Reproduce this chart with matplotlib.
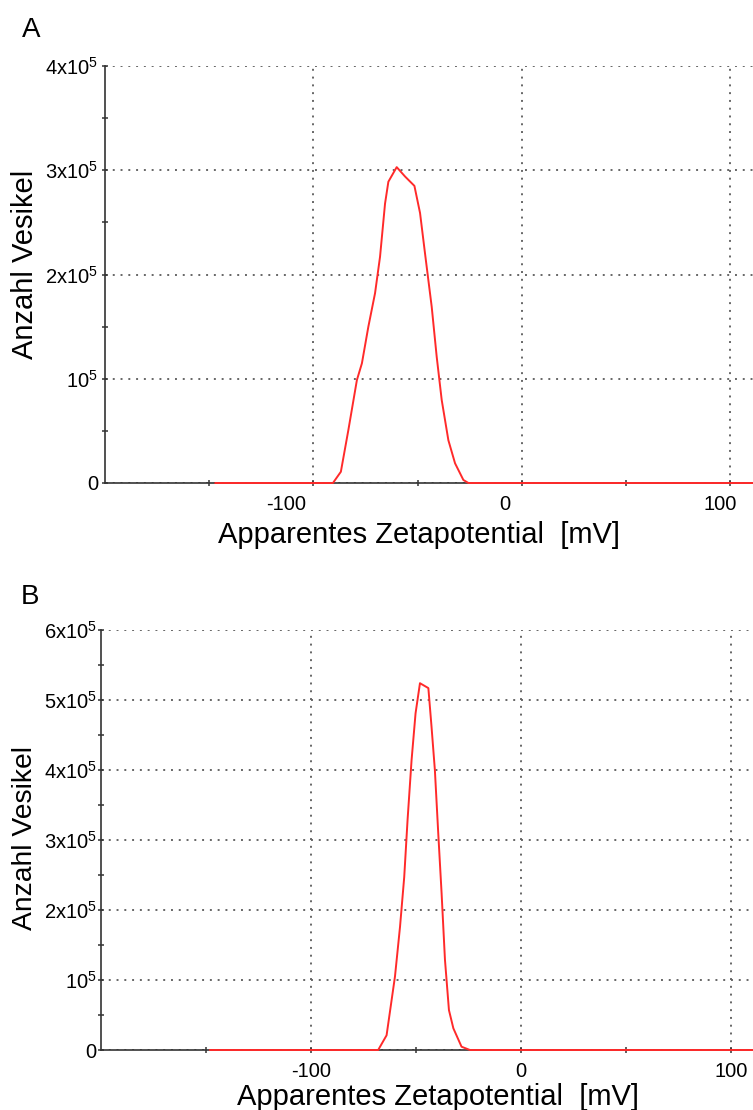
import matplotlib
matplotlib.use("Agg")
import matplotlib.pyplot as plt
from matplotlib.transforms import ScaledTranslation

plt.rcParams['font.family'] = ['Liberation Sans', 'DejaVu Sans']
plt.rcParams['mathtext.default'] = 'regular'

# Panel A: zeta potential distribution
zeta_a = [-147, -90.6, -86.8, -83.2, -79.1, -76.7, -73.6, -70.4, -68, -65.6, -64, -60,
          -56, -51.5, -48.8, -46.4, -43.2, -40.8, -38.4, -35.2, -32, -28, -25.6, 111]
count_a = [0, 0, 10.8e3, 50.8e3, 98.8e3, 114.8e3, 150e3, 182e3, 217e3, 268e3, 289e3, 303e3,
           294e3, 285e3, 259e3, 220e3, 169e3, 121e3, 79.6e3, 41e3, 18.9e3, 2.9e3, 0, 0]

# Panel B
zeta_b = [-148, -68, -64, -60, -57.6, -55.6, -54, -52.1, -50.2, -48.1, -44.1, -42.6,
          -41, -39.4, -37.8, -36.2, -34.3, -32.2, -28.3, -24.3, 110.5]
count_b = [0, 0, 21e3, 105e3, 176e3, 247e3, 329e3, 414e3, 481e3, 524e3, 517e3, 462e3,
           400e3, 310e3, 224e3, 129e3, 57e3, 31e3, 4.7e3, 0, 0]

x_ticks = [-100, 0, 100]
x_minor = [-150, -50, 50]
y_labels_a = ['0', '10$^5$', '2x10$^5$', '3x10$^5$', '4x10$^5$']
y_labels_b = ['0', '10$^5$', '2x10$^5$', '3x10$^5$', '4x10$^5$', '5x10$^5$', '6x10$^5$']

W, H = 753, 1110
fig = plt.figure(figsize=(W / 100, H / 100), dpi=100)


def px(x, y):
    return x / W, 1 - y / H


def style(ax, xs, ys, xmax, ylabels, ypad):
    ax.plot(xs, ys, color='#ff2a2a', lw=1.4, zorder=3, clip_on=False)
    ax.set_xlim(-200, xmax)
    ax.set_ylim(0, (len(ylabels) - 1) * 1e5)
    ax.set_xticks(x_ticks)
    ax.set_xticks(x_minor, minor=True)
    ax.set_yticks([i * 1e5 for i in range(len(ylabels))])
    ax.set_yticks([i * 1e5 + 5e4 for i in range(len(ylabels) - 1)], minor=True)
    ax.set_yticklabels(ylabels)
    ax.set_xticklabels([str(t) for t in x_ticks])
    for s in ['top', 'right']:
        ax.spines[s].set_visible(False)
    for s in ['left', 'bottom']:
        ax.spines[s].set_color('#333333')
        ax.spines[s].set_linewidth(1.2)
    ax.tick_params(which='both', direction='inout', length=5, width=1.1, color='#333333',
                   labelsize=14.5)
    ax.tick_params(axis='x', pad=6)
    ax.tick_params(axis='y', pad=ypad)
    ax.grid(True, which='major', color='#666666', linestyle=(0, (1, 3)), lw=1.4)
    ax.set_axisbelow(True)


axA = fig.add_axes([105 / W, 1 - 483 / H, 648 / W, 417 / H])
style(axA, zeta_a, count_a, 111, y_labels_a, 2.5)
# x tick labels of panel A sit left of their ticks
for lab, dx in zip(axA.get_xticklabels(), [-27, -17, -10]):
    lab.set_transform(lab.get_transform() + ScaledTranslation(dx / 100, 0, fig.dpi_scale_trans))

axB = fig.add_axes([101 / W, 1 - 1050 / H, 652 / W, 420 / H])
style(axB, zeta_b, count_b, 110.5, y_labels_b, 0.5)

xl = 'Apparentes Zetapotential  [mV]'
fig.text(*px(419, 543.3), xl, ha='center', va='baseline', fontsize=21)
fig.text(*px(438, 1105), xl, ha='center', va='baseline', fontsize=21)
fig.text(*px(33, 264), 'Anzahl Vesikel', rotation=90, rotation_mode='anchor',
         ha='center', va='baseline', fontsize=21)
fig.text(*px(32.3, 837.5), 'Anzahl Vesikel', rotation=90, rotation_mode='anchor',
         ha='center', va='baseline', fontsize=20.3)

fig.text(*px(21.5, 36.7), 'A', ha='left', va='baseline', fontsize=20)
fig.text(*px(20.5, 604), 'B', ha='left', va='baseline', fontsize=20)

fig.savefig('out.png', dpi=100)
